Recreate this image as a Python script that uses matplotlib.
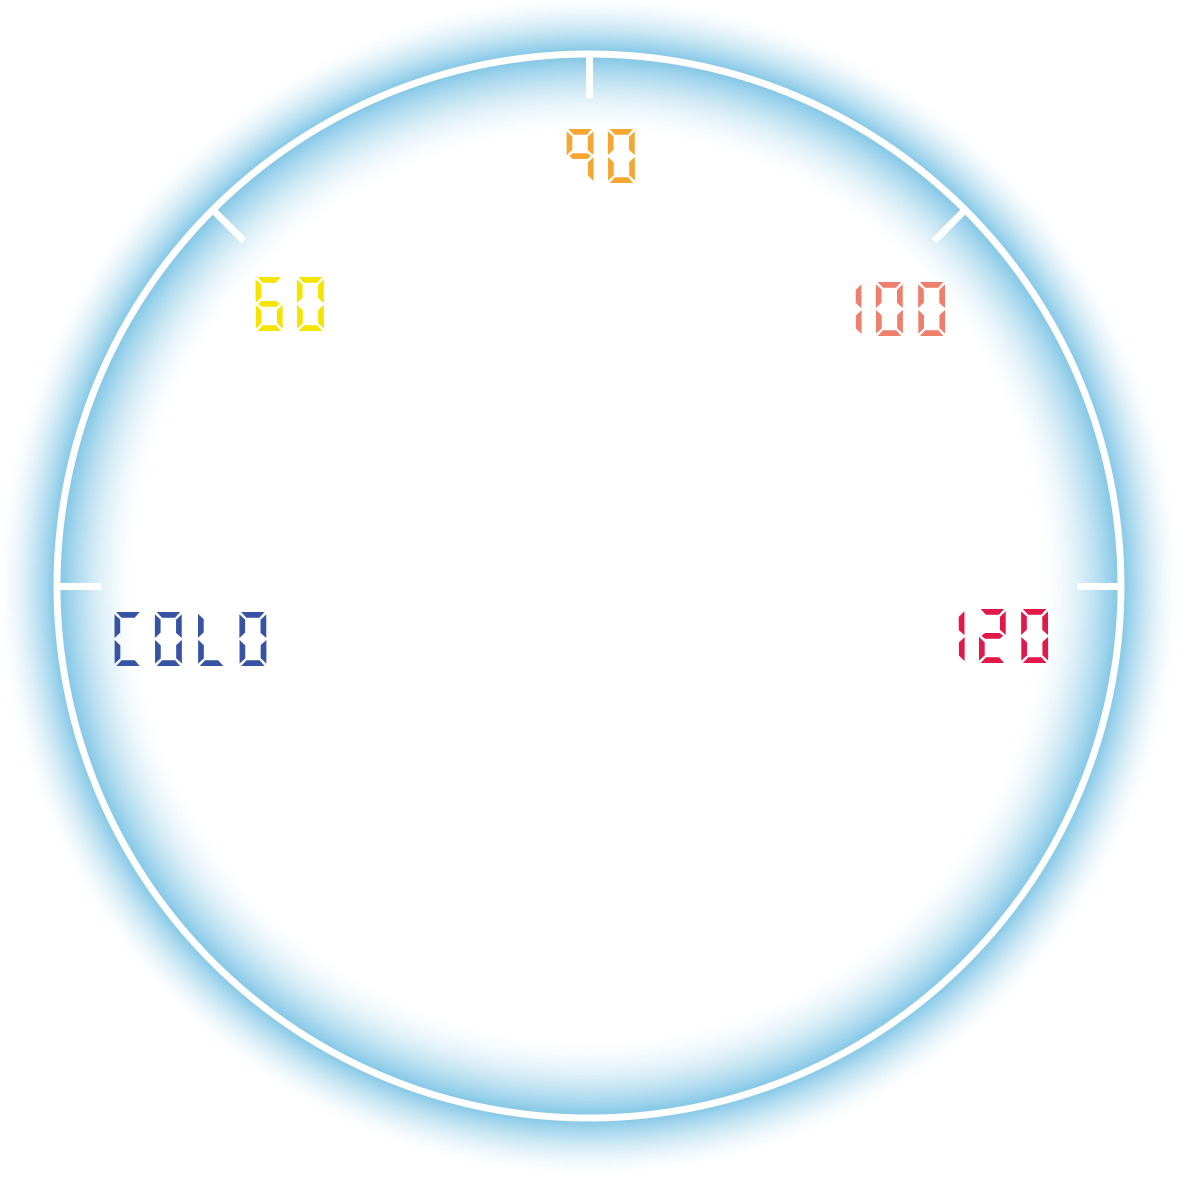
import numpy as np
import matplotlib
matplotlib.use("Agg")
import matplotlib.pyplot as plt

# dial labels and their colours
labels = ["COLD", "60", "90", "100", "120"]
label_colors = ["#3953a4", "#f5e400", "#f6a733", "#ef7f6d", "#e0194a"]
tick_angles = [180, 135, 90, 45, 0]  # degrees, counter-clockwise from the right

# layout (pixels)
W = 1181
cx, cy = 589, 586
R = 532
glow_rgb = (0.49, 0.77, 0.90)
label_pos = [(190, 655), (290, 320), (601, 172), (890, 325), (993, 652)]
font = ["Digital Numbers", "Iceland", "DejaVu Sans"]

fig = plt.figure(figsize=(W / 100, W / 100), dpi=100)
ax = fig.add_axes([0, 0, 1, 1])
ax.set_xlim(0, W)
ax.set_ylim(W, 0)
ax.axis("off")

# soft blue glow around the ring
yy, xx = np.mgrid[0:W, 0:W] + 0.5
d = np.hypot(xx - cx, yy - cy) - R
out = np.clip(1 - d / 58, 0, 1)
inn = np.clip(1 + d / 78, 0, 1)
a = np.where(d > 0, out ** 1.6, inn ** 1.7)
img = np.zeros((W, W, 4))
img[..., 0], img[..., 1], img[..., 2] = glow_rgb
img[..., 3] = a
ax.imshow(img, extent=(0, W, W, 0), interpolation="bilinear", zorder=1)

# white ring
t = np.linspace(0, 2 * np.pi, 720)
ax.plot(cx + R * np.cos(t), cy - R * np.sin(t), color="white", lw=5,
        solid_capstyle="butt", zorder=2)

# ticks
for ang in tick_angles:
    r = np.radians(ang)
    ax.plot([cx + (R - 44) * np.cos(r), cx + R * np.cos(r)],
            [cy - (R - 44) * np.sin(r), cy - R * np.sin(r)],
            color="white", lw=5, solid_capstyle="butt", zorder=2)

for lab, col, (x, y) in zip(labels, label_colors, label_pos):
    ax.text(x, y, lab, color=col, ha="center", va="baseline", fontsize=38,
            family=font, zorder=3)

fig.savefig("out.png", dpi=100, facecolor="white")
